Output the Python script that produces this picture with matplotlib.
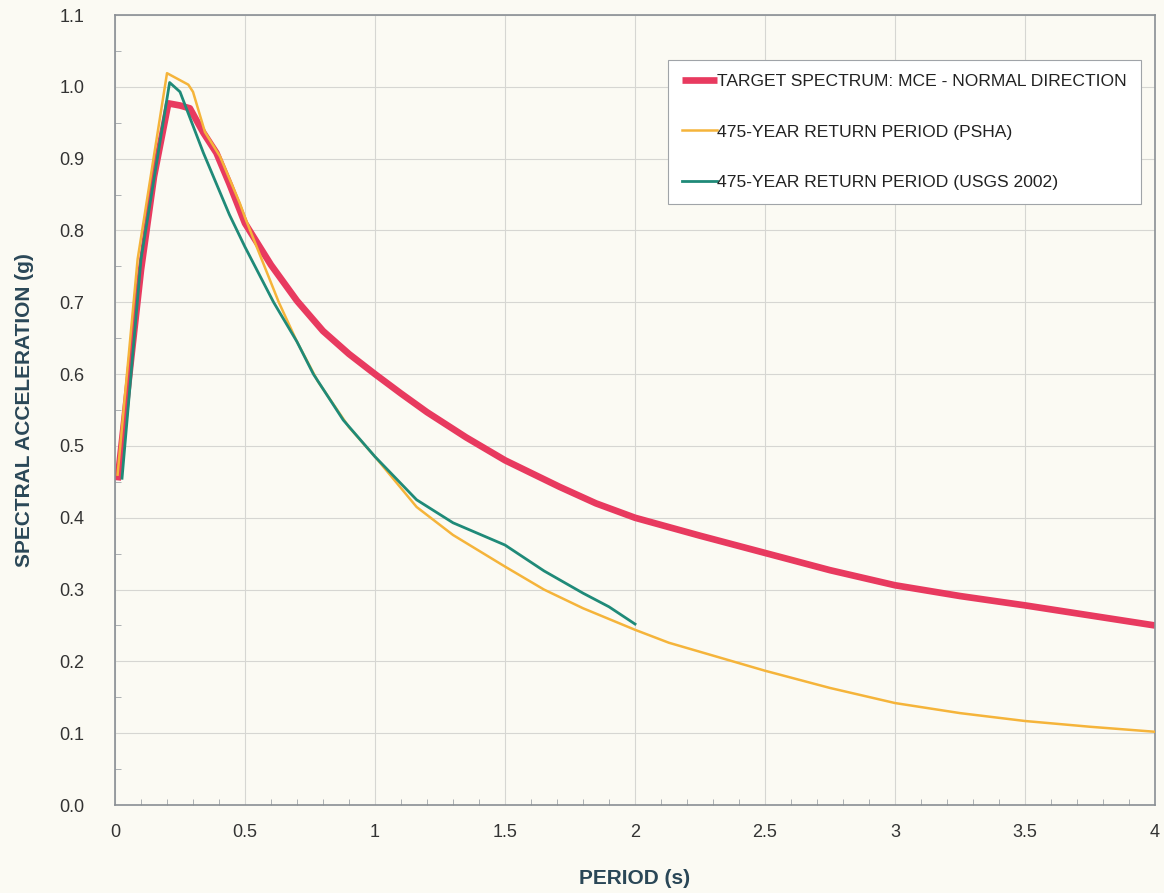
import matplotlib
matplotlib.use("Agg")
import matplotlib.pyplot as plt
from matplotlib.ticker import MultipleLocator, FuncFormatter

plt.rcParams['font.family'] = ['Liberation Sans', 'DejaVu Sans']

# ---- data ----
target_T = [0.01, 0.1, 0.15, 0.205, 0.25, 0.288, 0.34, 0.39, 0.44, 0.5, 0.6, 0.7, 0.8, 0.9, 1.0,
            1.1, 1.2, 1.35, 1.5, 1.71, 1.85, 2.0, 2.25, 2.5, 2.75, 3.0, 3.25, 3.5, 3.75, 4.0]
target_Sa = [0.452, 0.745, 0.875, 0.977, 0.974, 0.97, 0.936, 0.908, 0.865, 0.81, 0.752, 0.702,
             0.66, 0.628, 0.60, 0.573, 0.547, 0.512, 0.48, 0.443, 0.42, 0.40, 0.375, 0.351,
             0.327, 0.306, 0.291, 0.278, 0.264, 0.25]

psha_T = [0.01, 0.087, 0.2, 0.282, 0.3, 0.346, 0.404, 0.48, 0.5, 0.63, 0.7, 0.78, 0.9, 1.0,
          1.16, 1.3, 1.5, 1.65, 1.8, 2.0, 2.13, 2.5, 2.75, 3.0, 3.25, 3.5, 3.75, 4.0]
psha_Sa = [0.46, 0.76, 1.019, 1.003, 0.993, 0.937, 0.903, 0.838, 0.818, 0.70, 0.645, 0.59,
           0.526, 0.485, 0.415, 0.376, 0.332, 0.30, 0.274, 0.244, 0.226, 0.187, 0.163, 0.142,
           0.128, 0.117, 0.109, 0.102]

usgs_T = [0.027, 0.1, 0.21, 0.25, 0.34, 0.44, 0.5, 0.61, 0.7, 0.763, 0.878, 1.0, 1.16, 1.3,
          1.5, 1.65, 1.8, 1.9, 2.0]
usgs_Sa = [0.455, 0.76, 1.006, 0.993, 0.908, 0.822, 0.777, 0.70, 0.645, 0.60, 0.536, 0.485,
           0.425, 0.393, 0.362, 0.326, 0.295, 0.276, 0.252]

labels = ["TARGET SPECTRUM: MCE - NORMAL DIRECTION",
          "475-YEAR RETURN PERIOD (PSHA)",
          "475-YEAR RETURN PERIOD (USGS 2002)"]

bg = '#fbfaf3'
fig = plt.figure(figsize=(11.64, 8.93), dpi=100, facecolor=bg)
ax = fig.add_axes([0.0988, 0.0985, 0.8935, 0.8847], facecolor=bg)

ax.plot(psha_T, psha_Sa, color='#f5b43a', lw=1.8, label=labels[1], zorder=3,
        solid_joinstyle='round')
ax.plot(usgs_T, usgs_Sa, color='#1f8a78', lw=2.0, label=labels[2], zorder=4,
        solid_joinstyle='round')
ax.plot(target_T, target_Sa, color='#e83a5f', lw=4.8, label=labels[0], zorder=2,
        solid_capstyle='butt', solid_joinstyle='round')

ax.set_xlim(0, 4)
ax.set_ylim(0, 1.1)
ax.xaxis.set_major_locator(MultipleLocator(0.5))
ax.xaxis.set_minor_locator(MultipleLocator(0.1))
ax.yaxis.set_major_locator(MultipleLocator(0.1))
ax.yaxis.set_minor_locator(MultipleLocator(0.05))
ax.xaxis.set_major_formatter(FuncFormatter(lambda v, p: f"{v:g}"))
ax.yaxis.set_major_formatter(FuncFormatter(lambda v, p: f"{v:.1f}"))

ax.grid(True, which='major', color='#d6d6d2', lw=0.8, zorder=0)
for s in ax.spines.values():
    s.set_color('#8a8f94')
    s.set_linewidth(1.2)
ax.tick_params(axis='both', which='major', direction='in', length=0, labelsize=13,
               labelcolor='#333333')
ax.tick_params(axis='x', which='major', pad=14)
ax.tick_params(axis='y', which='major', pad=22)
ax.tick_params(axis='both', which='minor', direction='in', length=4, color='#a0a4a8')

ax.set_xlabel("PERIOD (s)", fontsize=15, fontweight='bold', color='#2a4757', labelpad=20)
ax.set_ylabel("SPECTRAL ACCELERATION (g)", fontsize=15, fontweight='bold', color='#2a4757',
              labelpad=18)

h, l = ax.get_legend_handles_labels()
order = [2, 0, 1]
leg = ax.legend([h[i] for i in order], [l[i] for i in order], loc='upper left',
                bbox_to_anchor=(0.532, 0.943), borderaxespad=0.0, fontsize=12.6,
                frameon=True, fancybox=False, handlelength=2.0, handletextpad=0.0,
                labelspacing=2.0, borderpad=0.8,
                edgecolor='#a0a4a8', facecolor='white', framealpha=1.0)
leg.get_frame().set_linewidth(0.8)
for t in leg.get_texts():
    t.set_color('#222222')

fig.savefig("out.png", dpi=100, facecolor=bg)
